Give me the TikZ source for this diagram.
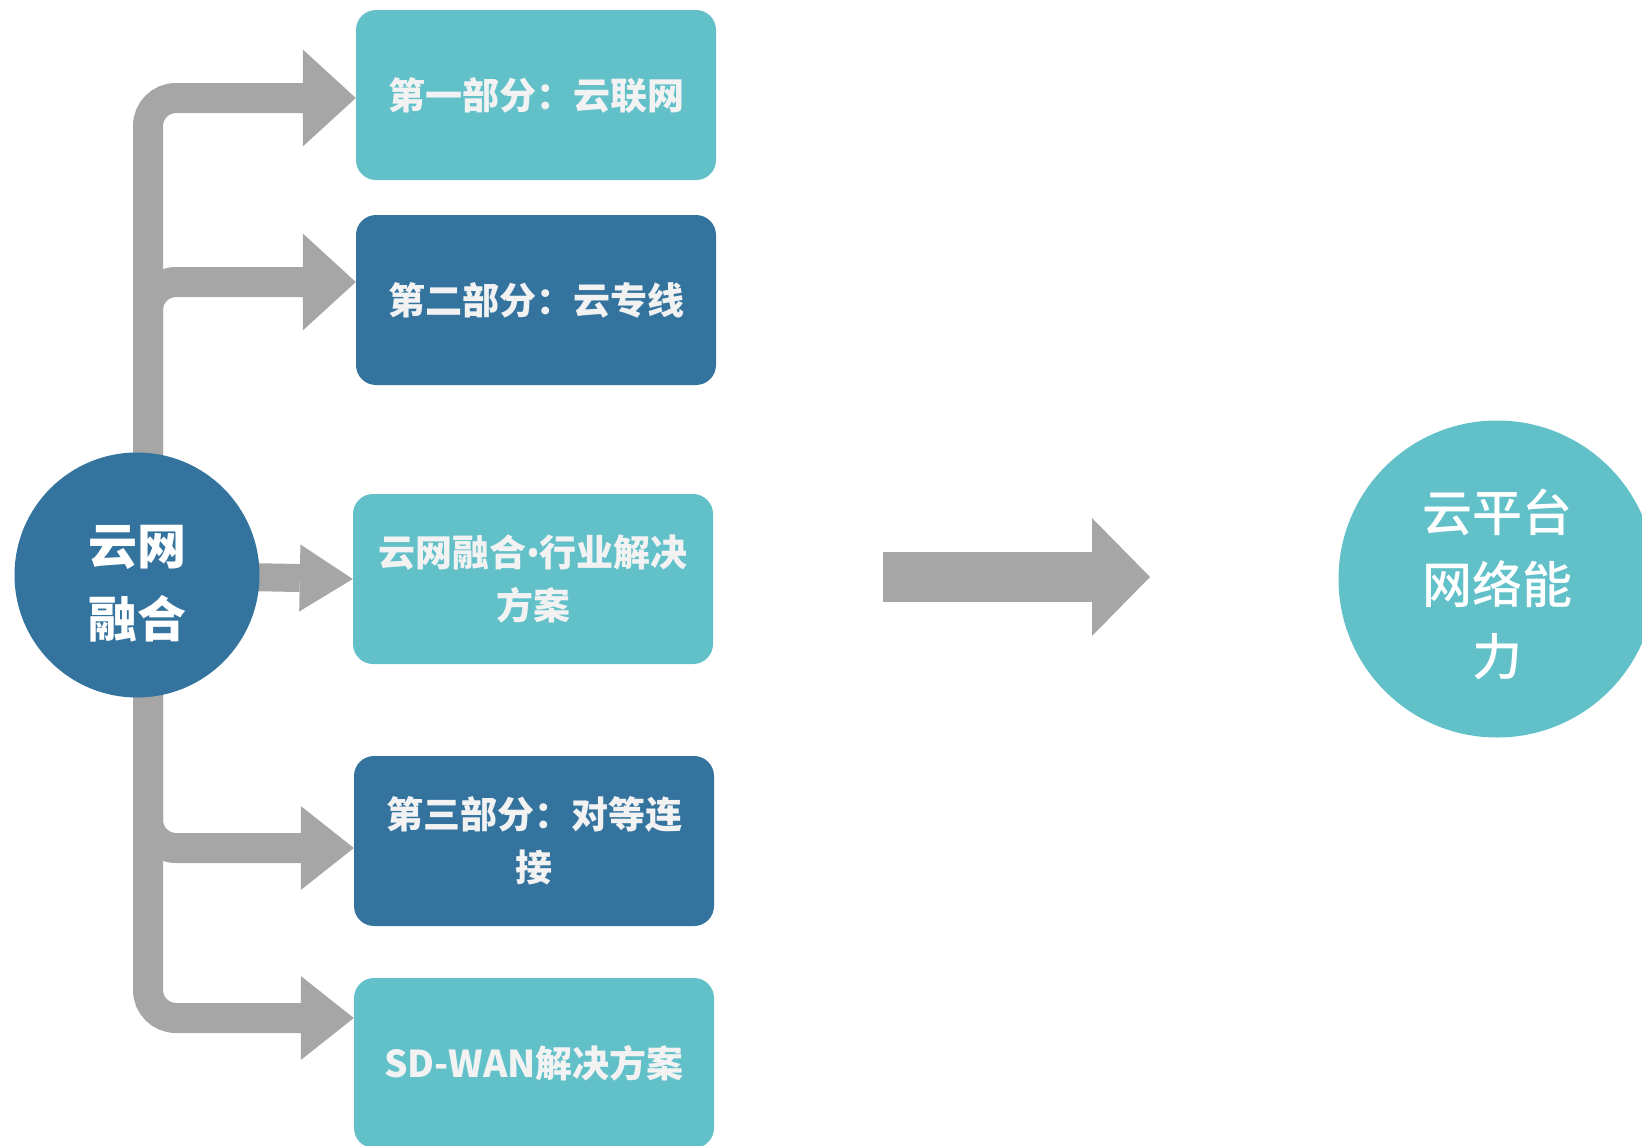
\documentclass[tikz,border=0pt]{standalone}
\usepackage{fontspec}
\setmainfont{Noto Sans CJK SC}
\newfontfamily\capfont[UprightFont={* Medium}]{Noto Sans CJK SC}
\newfontfamily\dotfont{Noto Sans}
\usetikzlibrary{arrows.meta,backgrounds}
\definecolor{cloudteal}{HTML}{61C0C8}
\definecolor{cloudblue}{HTML}{34739E}
\definecolor{flow}{HTML}{A6A6A6}
\colorlet{partwhite}{black!5}
\tikzset{
  part/.style = {fill=#1, rounded corners=20pt, minimum width=360pt, minimum height=170pt,
    text=partwhite, align=center, font=\bfseries\fontsize{37}{53}\selectfont},
  hub/.style = {circle, fill=#1, inner sep=0pt},
  hubtext/.style = {text=white, align=center},
  branch/.style = {draw=flow, line width=30pt, rounded corners=28pt,
    -{Triangle[length=53pt,width=#1,line width=0pt]}}
}

\begin{document}
\begin{tikzpicture}[x=1pt,y=-1pt]
  \useasboundingbox (0,0) rectangle (1642,1146);
  \node[part=cloudteal] (p1) at (536,95) {第一部分：云联网};
  \node[part=cloudblue] (p2) at (536,300) {第二部分：云专线};
  \node[part=cloudteal] (p3) at (533,579) {云网融合{\dotfont\bfseries•}行业解决\\方案};
  \node[part=cloudblue] (p4) at (534,841) {第三部分：对等连\\接};
  \node[part=cloudteal] (p5) at (534,1063) {SD-WAN解决方案};
  \node[hub=cloudblue, minimum size=245pt,
    label={[hubtext,yshift=-9pt,font=\bfseries\fontsize{49}{73}\selectfont]center:云网\\融合}]
    (hub) at (137,575) {};
  \node[hub=cloudteal, minimum size=317pt,
    label={[hubtext,yshift=-5pt,font=\capfont\fontsize{50}{72}\selectfont]center:云平台\\网络能\\力}]
    (cap) at (1497,579) {};
  \coordinate (stem) at ([xshift=11pt]hub.center);
  \coordinate (go) at (883,577);
  \coordinate (gone) at (1150,577);
  \begin{scope}[on background layer]
    \draw[branch=97pt] (stem) |- ([yshift=-3pt]p1.west);
    \draw[branch=97pt] (stem) |- ([yshift=18pt]p2.west);
    \draw[branch=67pt,line width=28pt] (hub.center) -- (p3.west);
    \draw[branch=84pt] (stem) |- ([yshift=-7pt]p4.west);
    \draw[branch=84pt] (stem) |- ([yshift=45pt]p5.west);
  \end{scope}
  \draw[draw=flow, line width=50pt, -{Triangle[length=58pt,width=118pt,line width=0pt]}] (go) -- (gone);
\end{tikzpicture}
\end{document}
